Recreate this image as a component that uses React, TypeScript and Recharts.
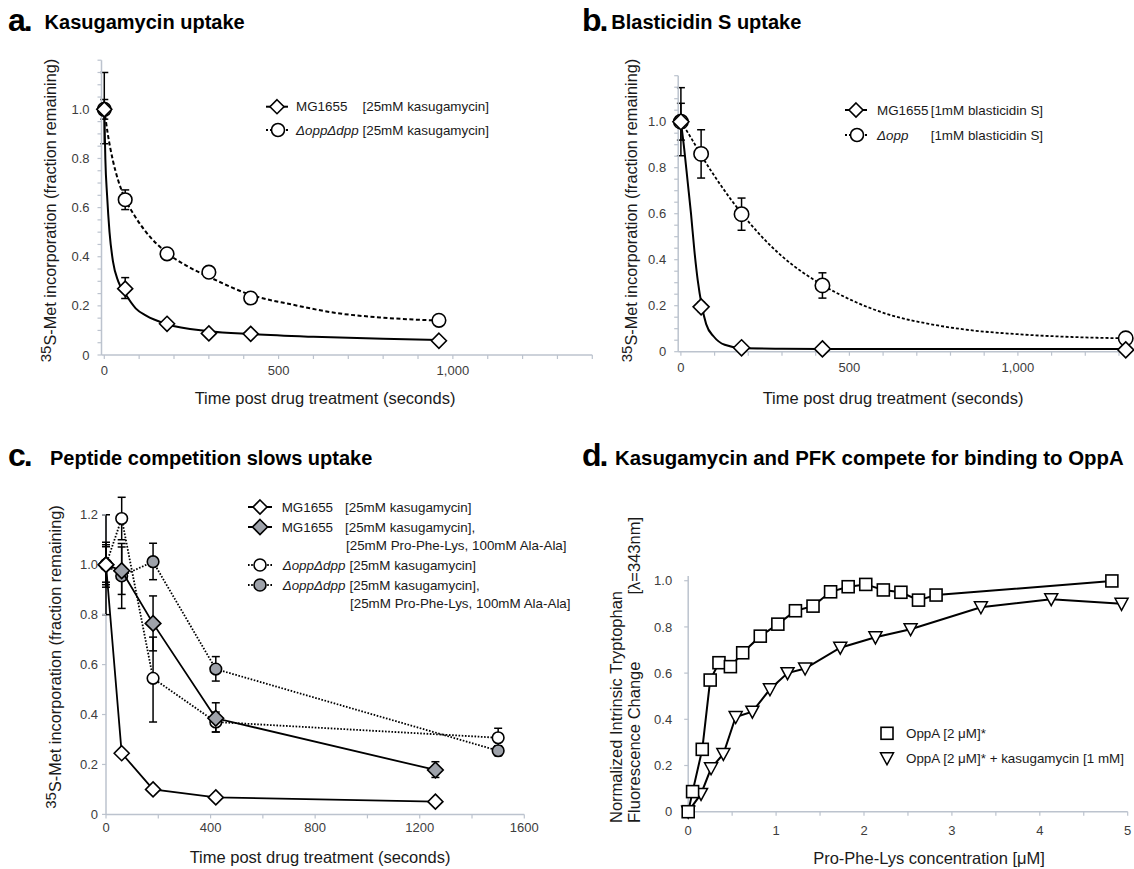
import React from 'react';
import { ComposedChart, Line, Scatter, XAxis, YAxis, ErrorBar, ReferenceLine } from 'recharts';

const FONT = '"Liberation Sans", Arial, Helvetica, sans-serif';
const AXIS_GREY = '#bcc3ce';
const TICK_TEXT = '#3c3c3c';
const FILL_GREY = '#9ea2aa';

type Err = [number, number] | null;

// ---- a. kasugamycin uptake
const kasT = [0, 60, 180, 300, 420, 960];
const kasWt = [1.0, 0.27, 0.127, 0.088, 0.086, 0.058];
const kasWtErr: Err[] = [[0.14, 0.15], [0.04, 0.045], null, null, null, null];
const kasMut = [1.0, 0.632, 0.412, 0.337, 0.232, 0.141];
const kasMutErr: Err[] = [[0.04, 0.04], [0.04, 0.04], null, null, null, null];
// fitted curves
const kasWtFitT = [0, 3, 8, 15, 25, 40, 60, 90, 120, 180, 300, 420, 600, 800, 960];
const kasWtFitV = [1.0, 0.8, 0.65, 0.5, 0.38, 0.3, 0.25, 0.19, 0.16, 0.125, 0.097, 0.085, 0.074, 0.066, 0.061];
const kasMutFitT = [0, 10, 25, 40, 60, 90, 120, 180, 240, 300, 420, 540, 660, 800, 960];
const kasMutFitV = [1.0, 0.9, 0.79, 0.71, 0.635, 0.56, 0.5, 0.415, 0.36, 0.318, 0.245, 0.205, 0.172, 0.152, 0.14];

// ---- b. blasticidin S uptake
const blaT = [0, 60, 180, 420, 1320];
const blaWt = [1.0, 0.195, 0.017, 0.012, 0.008];
const blaWtErr: Err[] = [[0.148, 0.148], [0.02, 0.02], null, null, null];
const blaMut = [1.0, 0.86, 0.598, 0.288, 0.058];
const blaMutErr: Err[] = [[0.08, 0.08], [0.105, 0.105], [0.07, 0.07], [0.055, 0.055], [0.008, 0.008]];
const blaWtFitT = [0, 10, 20, 30, 40, 50, 62, 75, 98, 130, 180, 300, 420, 800, 1320];
const blaWtFitV = [1.0, 0.88, 0.74, 0.6, 0.44, 0.31, 0.2, 0.12, 0.065, 0.03, 0.016, 0.013, 0.012, 0.012, 0.012];
const blaMutFitT = [0, 30, 60, 120, 180, 240, 300, 420, 520, 620, 740, 840, 1000, 1160, 1320];
const blaMutFitV = [1.0, 0.93, 0.855, 0.72, 0.602, 0.5, 0.415, 0.29, 0.215, 0.16, 0.12, 0.097, 0.076, 0.064, 0.058];

// ---- c. peptide competition
const pepTWt = [0, 60, 180, 420, 1260];
const pepWt = [1.0, 0.245, 0.1, 0.068, 0.051];
const pepWtErr: Err[] = [[0.09, 0.09], null, null, null, null];
const pepWtPep = [1.0, 0.976, 0.765, 0.385, 0.178];
const pepWtPepErr: Err[] = [[0.2, 0.2], [0.095, 0.095], [0.11, 0.11], [0.055, 0.062], [0.03, 0.033]];
const pepTMut = [0, 60, 180, 420, 1500];
const pepMut = [1.0, 1.185, 0.545, 0.37, 0.307];
const pepMutErr: Err[] = [[0.07, 0.072], [0.085, 0.085], [0.175, 0.165], [0.04, 0.04], [0.035, 0.038]];
const pepMutPep = [1.0, 0.955, 1.012, 0.582, 0.255];
const pepMutPepErr: Err[] = [[0.08, 0.08], [0.13, 0.13], [0.072, 0.074], [0.048, 0.05], [0.02, 0.02]];

// ---- d. OppA binding
const oppAConc = [0, 0.05, 0.16, 0.25, 0.35, 0.48, 0.62, 0.82, 1.02, 1.22, 1.42, 1.62, 1.82, 2.02, 2.22, 2.42, 2.62, 2.82, 4.82];
const oppA = [0, 0.087, 0.27, 0.57, 0.645, 0.628, 0.688, 0.76, 0.812, 0.87, 0.89, 0.952, 0.974, 0.984, 0.96, 0.95, 0.916, 0.938, 0.999];
const oppAKasConc = [0, 0.146, 0.26, 0.4, 0.54, 0.73, 0.93, 1.13, 1.33, 1.73, 2.13, 2.53, 3.33, 4.13, 4.93];
const oppAKas = [0, 0.077, 0.188, 0.25, 0.41, 0.433, 0.53, 0.6, 0.62, 0.71, 0.755, 0.79, 0.885, 0.92, 0.9];

// ticks
const fineY = [0, 0.05, 0.1, 0.15, 0.2, 0.25, 0.3, 0.35, 0.4, 0.45, 0.5, 0.55, 0.6, 0.65, 0.7, 0.75, 0.8, 0.85, 0.9, 0.95, 1, 1.05, 1.1, 1.15, 1.2];
const kasX = [0, 100, 200, 300, 400, 500, 600, 700, 800, 900, 1000, 1100, 1200, 1300, 1400];
const blaX = [0, 100, 200, 300, 400, 500, 600, 700, 800, 900, 1000, 1100, 1200, 1300];
const pepX = [0, 200, 400, 600, 800, 1000, 1200, 1400, 1600];
const pepY = [0, 0.2, 0.4, 0.6, 0.8, 1, 1.2];
const bindX = [0, 0.5, 1, 1.5, 2, 2.5, 3, 3.5, 4, 4.5, 5];
const bindY = [0, 0.2, 0.4, 0.6, 0.8, 1];

const rows = (t: number[], v: number[], e?: Err[]) => t.map((x, i) => ({ t: x, v: v[i], e: e ? e[i] : null }));

const fmtFine = (v: number) => {
  const k = Math.round(v * 100);
  if (k % 20 !== 0 || k > 100) return '';
  return k === 0 ? '0' : (k / 100).toFixed(1);
};
const fmtThousands = (v: number) => (v % 500 === 0 ? String(v).replace(/\B(?=(\d{3})+(?!\d))/g, ',') : '');
const fmtDec = (v: number) => (v === 0 ? '0' : v.toFixed(1));

const tickStyle = { fill: TICK_TEXT, fontSize: 13, fontFamily: FONT };
const axisProps = {
  axisLine: { stroke: AXIS_GREY, strokeWidth: 1.5 },
  tickLine: { stroke: AXIS_GREY, strokeWidth: 1.2 },
  tickSize: 4,
  tick: tickStyle,
  interval: 0 as const,
};

const Diamond = ({ x, y, r, fill }: any) => (
  <polygon points={`${x},${y - r} ${x + r},${y} ${x},${y + r} ${x - r},${y}`} fill={fill} stroke="#000" strokeWidth={1.6} />
);
const Ring = ({ x, y, r, fill }: any) => <circle cx={x} cy={y} r={r} fill={fill} stroke="#000" strokeWidth={1.6} />;
const Square = ({ x, y, s }: any) => <rect x={x - s / 2} y={y - s / 2} width={s} height={s} fill="#fff" stroke="#000" strokeWidth={1.6} />;
const TriDown = ({ x, y, s }: any) => (
  <polygon points={`${x - s / 2},${y - s * 0.42} ${x + s / 2},${y - s * 0.42} ${x},${y + s * 0.5}`} fill="#fff" stroke="#000" strokeWidth={1.5} />
);

const errBar = <ErrorBar dataKey="e" direction="y" width={4} stroke="#000" strokeWidth={1.5} />;

function PanelA() {
  return (
    <div style={{ position: 'absolute', left: 0, top: 0 }}>
      <ComposedChart width={600} height={420} margin={{ top: 60.2, right: 7.7, bottom: 25, left: 41.5 }}>
        <XAxis type="number" dataKey="t" domain={[-8, 1400]} ticks={kasX} tickFormatter={fmtThousands} height={40} tickMargin={7} {...axisProps} />
        <YAxis type="number" domain={[0, 1.2]} ticks={fineY} tickFormatter={fmtFine} width={60} tickMargin={8} {...axisProps} />
        <Line data={rows(kasMutFitT, kasMutFitV)} dataKey="v" type="monotone" stroke="#000" strokeWidth={2} strokeDasharray="4 2.5" dot={false} activeDot={false} isAnimationActive={false} />
        <Line data={rows(kasWtFitT, kasWtFitV)} dataKey="v" type="monotone" stroke="#000" strokeWidth={2} dot={false} activeDot={false} isAnimationActive={false} />
        <Scatter data={rows(kasT, kasMut, kasMutErr)} dataKey="v" isAnimationActive={false} shape={(p: any) => <Ring x={p.cx} y={p.cy} r={6.8} fill="#fff" />}>
          {errBar}
        </Scatter>
        <Scatter data={rows(kasT, kasWt, kasWtErr)} dataKey="v" isAnimationActive={false} shape={(p: any) => <Diamond x={p.cx} y={p.cy} r={7.5} fill="#fff" />}>
          {errBar}
        </Scatter>
      </ComposedChart>
    </div>
  );
}

function PanelB() {
  return (
    <div style={{ position: 'absolute', left: 600, top: 0 }}>
      <ComposedChart width={534} height={420} margin={{ top: 75.7, right: 4.9, bottom: 28.3, left: 18.2 }}>
        <XAxis type="number" dataKey="t" domain={[-8, 1330]} ticks={blaX} tickFormatter={fmtThousands} height={40} tickMargin={7} {...axisProps} />
        <YAxis type="number" domain={[0, 1.2]} ticks={fineY} tickFormatter={fmtFine} width={60} tickMargin={8} {...axisProps} />
        <Line data={rows(blaMutFitT, blaMutFitV)} dataKey="v" type="monotone" stroke="#000" strokeWidth={1.8} strokeDasharray="3 2" dot={false} activeDot={false} isAnimationActive={false} />
        <Line data={rows(blaWtFitT, blaWtFitV)} dataKey="v" type="monotone" stroke="#000" strokeWidth={2} dot={false} activeDot={false} isAnimationActive={false} />
        <Scatter data={rows(blaT, blaMut, blaMutErr)} dataKey="v" isAnimationActive={false} shape={(p: any) => <Ring x={p.cx} y={p.cy} r={7.2} fill="#fff" />}>
          {errBar}
        </Scatter>
        <Scatter data={rows(blaT, blaWt, blaWtErr)} dataKey="v" isAnimationActive={false} shape={(p: any) => <Diamond x={p.cx} y={p.cy} r={8} fill="#fff" />}>
          {errBar}
        </Scatter>
      </ComposedChart>
    </div>
  );
}

function PanelC() {
  const dotted = { stroke: '#000', strokeWidth: 1.8, strokeDasharray: '1.6 1.6' };
  const solid = { stroke: '#000', strokeWidth: 1.8 };
  return (
    <div style={{ position: 'absolute', left: 0, top: 440 }}>
      <ComposedChart width={560} height={429} margin={{ top: 49.8, right: 35.7, bottom: 14.6, left: 46 }}>
        <XAxis type="number" dataKey="t" domain={[0, 1600]} ticks={pepX} tickFormatter={(v: number) => (v % 400 === 0 ? String(v) : '')} height={40} tickMargin={4} {...axisProps} />
        <YAxis type="number" domain={[0, 1.3]} ticks={pepY} tickFormatter={fmtDec} width={60} tickMargin={4} {...axisProps} axisLine={false} />
        <ReferenceLine segment={[{ x: 0, y: 0 }, { x: 0, y: 1.2 }]} stroke={AXIS_GREY} strokeWidth={1.5} />
        <Scatter data={rows(pepTMut, pepMut, pepMutErr)} dataKey="v" line={dotted} isAnimationActive={false} shape={(p: any) => <Ring x={p.cx} y={p.cy} r={5.8} fill="#fff" />}>
          {errBar}
        </Scatter>
        <Scatter data={rows(pepTMut, pepMutPep, pepMutPepErr)} dataKey="v" line={dotted} isAnimationActive={false} shape={(p: any) => <Ring x={p.cx} y={p.cy} r={5.8} fill={FILL_GREY} />}>
          {errBar}
        </Scatter>
        <Scatter data={rows(pepTWt, pepWtPep, pepWtPepErr)} dataKey="v" line={solid} isAnimationActive={false} shape={(p: any) => <Diamond x={p.cx} y={p.cy} r={7.8} fill={FILL_GREY} />}>
          {errBar}
        </Scatter>
        <Scatter data={rows(pepTWt, pepWt, pepWtErr)} dataKey="v" line={solid} isAnimationActive={false} shape={(p: any) => <Diamond x={p.cx} y={p.cy} r={7.5} fill="#fff" />}>
          {errBar}
        </Scatter>
      </ComposedChart>
    </div>
  );
}

function PanelD() {
  const solid = { stroke: '#000', strokeWidth: 2 };
  return (
    <div style={{ position: 'absolute', left: 560, top: 440 }}>
      <ComposedChart width={574} height={429} margin={{ top: 136.1, right: 6.3, bottom: 17.3, left: 68.2 }}>
        <XAxis type="number" dataKey="t" domain={[0, 5]} ticks={bindX} tickFormatter={(v: number) => (Number.isInteger(v) ? String(v) : '')} height={40} tickMargin={10} {...axisProps} />
        <YAxis type="number" domain={[0, 1.02]} ticks={bindY} tickFormatter={fmtDec} width={60} tickMargin={12} {...axisProps} />
        <Scatter data={rows(oppAKasConc, oppAKas)} dataKey="v" line={solid} isAnimationActive={false} shape={(p: any) => <TriDown x={p.cx} y={p.cy} s={13} />} />
        <Scatter data={rows(oppAConc, oppA)} dataKey="v" line={solid} isAnimationActive={false} shape={(p: any) => <Square x={p.cx} y={p.cy} s={12} />} />
      </ComposedChart>
    </div>
  );
}

const YLabel35 = ({ x, y }: { x: number; y: number }) => (
  <text transform={`translate(${x},${y}) rotate(-90)`} textAnchor="middle" dominantBaseline="central" fontSize={16.3} fill="#1a1a1a">
    <tspan fontSize={15} dy={-5}>35</tspan>
    <tspan dy={5}>S-Met incorporation (fraction remaining)</tspan>
  </text>
);

const PanelLetter = ({ x, y, c }: { x: number; y: number; c: string }) => (
  <text x={x} y={y} fontWeight="bold" fontSize={32} letterSpacing={-2}>{c}</text>
);

function Overlay() {
  const lg = { fontSize: 13.4, fill: '#1a1a1a', dominantBaseline: 'central' as const };
  const it = { fontStyle: 'italic' as const };
  return (
    <svg width={1134} height={869} style={{ position: 'absolute', left: 0, top: 0, pointerEvents: 'none' }} fontFamily={FONT}>
      {/* titles */}
      <PanelLetter x={8} y={31} c="a." />
      <text x={44.6} y={29} fontWeight="bold" fontSize={20}>Kasugamycin uptake</text>
      <PanelLetter x={582} y={31} c="b." />
      <text x={611.3} y={29} fontWeight="bold" fontSize={20}>Blasticidin S uptake</text>
      <PanelLetter x={8} y={466} c="c." />
      <text x={50} y={465} fontWeight="bold" fontSize={20}>Peptide competition slows uptake</text>
      <PanelLetter x={582} y={466} c="d." />
      <text x={615} y={465} fontWeight="bold" fontSize={20.4}>Kasugamycin and PFK compete for binding to OppA</text>

      {/* axis labels */}
      <YLabel35 x={50} y={210.5} />
      <text x={325} y={398} textAnchor="middle" dominantBaseline="central" fontSize={16.5} fill="#1a1a1a">Time post drug treatment (seconds)</text>
      <YLabel35 x={631} y={210.5} />
      <text x={893} y={398} textAnchor="middle" dominantBaseline="central" fontSize={16.5} fill="#1a1a1a">Time post drug treatment (seconds)</text>
      <YLabel35 x={55} y={657} />
      <text x={320} y={857} textAnchor="middle" dominantBaseline="central" fontSize={16.5} fill="#1a1a1a">Time post drug treatment (seconds)</text>
      <text transform="translate(616,823) rotate(-90)" dominantBaseline="central" fontSize={16.5} fill="#1a1a1a">Normalized Intrinsic Tryptophan</text>
      <text transform="translate(634,823) rotate(-90)" dominantBaseline="central" fontSize={16.5} fill="#1a1a1a">Fluorescence Change</text>
      <text transform="translate(634,517) rotate(-90)" textAnchor="end" dominantBaseline="central" fontSize={16.5} fill="#1a1a1a">[λ=343nm]</text>
      <text x={929} y={858} textAnchor="middle" dominantBaseline="central" fontSize={16.5} fill="#1a1a1a">Pro-Phe-Lys concentration [μM]</text>

      {/* legend a */}
      <line x1={266} x2={288} y1={106.7} y2={106.7} stroke="#000" strokeWidth={2} />
      <Diamond x={277} y={106.7} r={7} fill="#fff" />
      <text x={296} y={106.7} {...lg}>MG1655</text>
      <text x={362.5} y={106.7} {...lg}>[25mM kasugamycin]</text>
      <line x1={266} x2={290} y1={130} y2={130} stroke="#000" strokeWidth={2} strokeDasharray="2 2" />
      <Ring x={278} y={130} r={6.5} fill="#fff" />
      <text x={296} y={130} {...lg} {...it}>ΔoppΔdpp</text>
      <text x={362.5} y={130} {...lg}>[25mM kasugamycin]</text>

      {/* legend b */}
      <line x1={845} x2={867} y1={110} y2={110} stroke="#000" strokeWidth={2} />
      <Diamond x={856} y={110} r={7} fill="#fff" />
      <text x={877} y={110} {...lg}>MG1655</text>
      <text x={930.7} y={110} {...lg}>[1mM blasticidin S]</text>
      <line x1={845} x2={869} y1={135} y2={135} stroke="#000" strokeWidth={2} strokeDasharray="2 2" />
      <Ring x={857} y={135} r={6.5} fill="#fff" />
      <text x={877} y={135} {...lg} {...it}>Δopp</text>
      <text x={930.7} y={135} {...lg}>[1mM blasticidin S]</text>

      {/* legend c */}
      <line x1={248} x2={272} y1={507} y2={507} stroke="#000" strokeWidth={2} />
      <Diamond x={260} y={507} r={7} fill="#fff" />
      <text x={281.7} y={507} {...lg}>MG1655</text>
      <text x={345} y={507} {...lg}>[25mM kasugamycin]</text>
      <line x1={248} x2={272} y1={527} y2={527} stroke="#000" strokeWidth={2} />
      <Diamond x={260} y={527} r={7.5} fill={FILL_GREY} />
      <text x={281.7} y={527} {...lg}>MG1655</text>
      <text x={345} y={527} {...lg}>[25mM kasugamycin],</text>
      <text x={346} y={545} {...lg}>[25mM Pro-Phe-Lys, 100mM Ala-Ala]</text>
      <line x1={248} x2={273} y1={565} y2={565} stroke="#000" strokeWidth={1.8} strokeDasharray="1.6 1.6" />
      <Ring x={260} y={565} r={6} fill="#fff" />
      <text x={282.7} y={565} {...lg} {...it}>ΔoppΔdpp</text>
      <text x={349.5} y={565} {...lg}>[25mM kasugamycin]</text>
      <line x1={248} x2={273} y1={585} y2={585} stroke="#000" strokeWidth={1.8} strokeDasharray="1.6 1.6" />
      <Ring x={260} y={585} r={6} fill={FILL_GREY} />
      <text x={282.7} y={585} {...lg} {...it}>ΔoppΔdpp</text>
      <text x={349.5} y={585} {...lg}>[25mM kasugamycin],</text>
      <text x={350} y={603} {...lg}>[25mM Pro-Phe-Lys, 100mM Ala-Ala]</text>

      {/* legend d */}
      <Square x={887} y={733.3} s={12} />
      <text x={906} y={733.3} {...lg}>OppA [2 μM]*</text>
      <TriDown x={887} y={758.3} s={13} />
      <text x={906} y={758.3} {...lg}>OppA [2 μM]* + kasugamycin [1 mM]</text>
    </svg>
  );
}

export default function App() {
  return (
    <div style={{ position: 'absolute', left: 0, top: 0, width: 1134, height: 869, background: '#fff', fontFamily: FONT }}>
      <PanelA />
      <PanelB />
      <PanelC />
      <PanelD />
      <Overlay />
    </div>
  );
}
